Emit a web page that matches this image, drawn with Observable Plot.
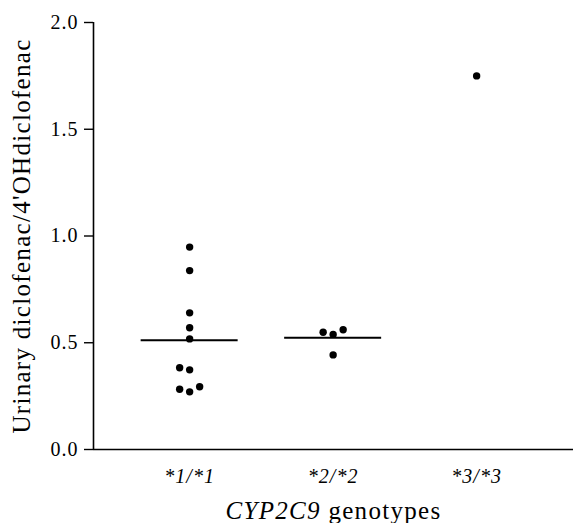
<!DOCTYPE html>
<html><head><meta charset="utf-8">
<script src="https://cdn.jsdelivr.net/npm/d3@7"></script>
<script src="https://cdn.jsdelivr.net/npm/@observablehq/plot@0.6"></script>
<style>body{margin:0;background:#fff;font-family:"Liberation Serif",serif}</style>
</head><body><div id="chart"></div>
<script>
// ---- data ----
const genotypes = ["*1/*1", "*2/*2", "*3/*3"];
const values11 = [0.948, 0.838, 0.640, 0.570, 0.518, 0.383, 0.373, 0.294, 0.282, 0.270];
const values22 = [0.561, 0.549, 0.539, 0.443];
const values33 = [1.75];
const yTicks = [0, 0.5, 1.0, 1.5, 2.0];
const yLabel = "Urinary diclofenac/4'OHdiclofenac";
const xLabelItalic = "CYP2C9";
const xLabelRest = " genotypes";

// ---- layout ----
const W = 573, H = 523, mL = 93, mR = 0, mT = 22, mB = 74;
const xDomain = [0.33, 3.675];
const pxPerX = (W - mL - mR) / (xDomain[1] - xDomain[0]);
const pxPerY = (H - mT - mB) / 2;
const slotPx = 10, dotR = 3.7, collidePx = 9;
const FONT = "Liberation Serif";

// simple column-scatter layout: points that would overlap are moved to side slots
const groups = [values11, values22, values33];
const points = [];
groups.forEach((vals, gi) => {
  const placed = [];
  [...vals].sort((a, b) => a - b).forEach(v => {
    for (const s of [0, -1, 1, -2, 2, -3, 3]) {
      const ok = placed.every(p => ((s - p.s) * slotPx) ** 2 + ((v - p.v) * pxPerY) ** 2 >= collidePx ** 2);
      if (ok) { placed.push({s, v}); points.push({g: gi + 1, slot: s, value: v}); break; }
    }
  });
});
const means = groups.map((vals, gi) => ({g: gi + 1, n: vals.length, mean: d3.mean(vals)})).filter(d => d.n > 1);
const halfLine = 48.5 / pxPerX;

const svg = Plot.plot({
  width: W, height: H,
  marginLeft: mL, marginRight: mR, marginTop: mT, marginBottom: mB,
  style: {fontFamily: FONT, background: "#fff", color: "#000"},
  x: {domain: xDomain},
  y: {domain: [0, 2]},
  marks: [
    Plot.ruleY([0], {stroke: "#000", strokeWidth: 1.6}),
    Plot.ruleX([xDomain[0]], {y1: 0, y2: 2, stroke: "#000", strokeWidth: 1.6}),
    Plot.axisY({ticks: yTicks, tickFormat: d3.format(".1f"), tickSize: 9, tickPadding: 6,
      fontSize: 20, fontVariant: "normal", strokeWidth: 1.4, label: yLabel, labelAnchor: "center", labelOffset: 81}),
    Plot.axisX({ticks: [1, 2, 3], tickFormat: i => genotypes[i - 1], tickSize: 0, tickPadding: 19,
      fontSize: 20, label: xLabelItalic + xLabelRest, labelAnchor: "center", labelOffset: 69}),
    Plot.ruleY(means, {y: "mean", x1: d => d.g - halfLine, x2: d => d.g + halfLine, stroke: "#000", strokeWidth: 2}),
    Plot.dot(points, {x: d => d.g + d.slot * slotPx / pxPerX, y: "value", r: dotR, fill: "#000", stroke: "none"})
  ]
});

const s = d3.select(svg);
s.attr("font-family", FONT);
s.selectAll('g[aria-label="y-axis tick label"], g[aria-label="x-axis tick label"]').attr("font-size", 20).attr("letter-spacing", "1px");
s.selectAll('g[aria-label="x-axis tick label"]').attr("font-style", "italic");
s.selectAll('g[aria-label="y-axis label"], g[aria-label="x-axis label"]').attr("font-size", 25).attr("letter-spacing", "1.3px");
s.select('g[aria-label="y-axis label"] text').text(yLabel);
const xl = s.select('g[aria-label="x-axis label"] text');
xl.text(null);
xl.append("tspan").attr("font-style", "italic").text(xLabelItalic);
xl.append("tspan").text(xLabelRest);
s.selectAll("g, text, tspan").attr("font-family", FONT).each(function() { this.style.setProperty("font-family", FONT, "important"); });
svg.style.setProperty("font-family", FONT, "important");
document.getElementById("chart").appendChild(svg);
</script>
</body></html>
